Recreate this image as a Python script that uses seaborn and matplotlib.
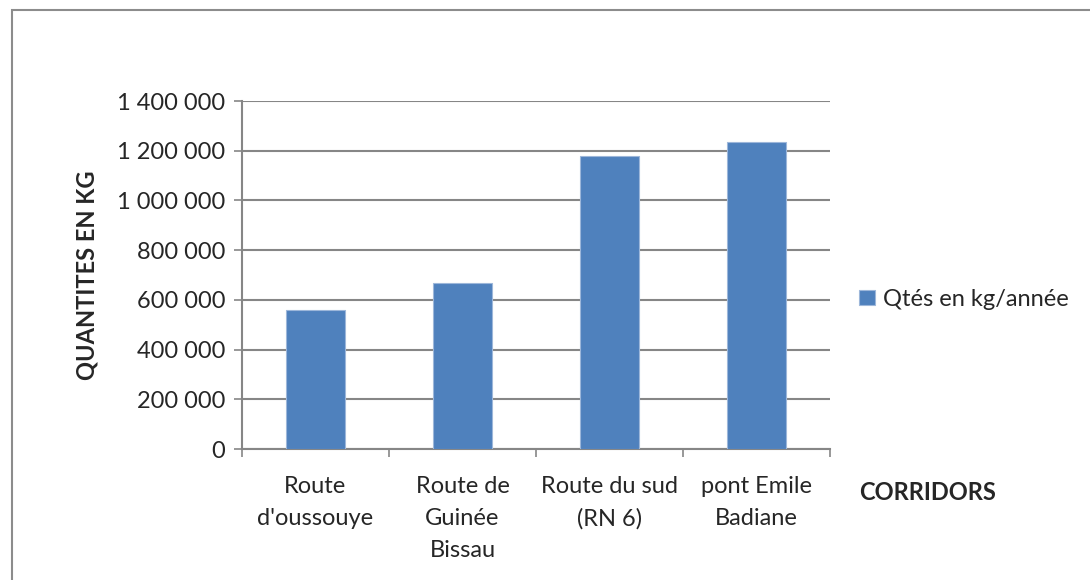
import matplotlib
matplotlib.use("Agg")
import matplotlib.pyplot as plt
import seaborn as sns
import pandas as pd
from matplotlib.patches import Rectangle
from matplotlib.ticker import FuncFormatter, FixedLocator

# data
corridors = ["Route\nd'oussouye", "Route de\nGuinée\nBissau", "Route du sud\n(RN 6)", "pont Emile\nBadiane"]
quantites = [560000, 668000, 1177000, 1236000]
series_name = "Qtés en kg/année"
y_ticks = [0, 200000, 400000, 600000, 800000, 1000000, 1200000, 1400000]

df = pd.DataFrame({"Corridor": corridors, "Quantite": quantites, "Serie": series_name})

sns.set_style("white")
plt.rcParams['font.family'] = ['Lato', 'DejaVu Sans']
fs = 17

fig = plt.figure(figsize=(10.9, 5.8), dpi=100)
ax = fig.add_axes([242 / 1090, 1 - 449 / 580, (830 - 242) / 1090, (449 - 101) / 580])

sns.barplot(data=df, x="Corridor", y="Quantite", hue="Serie", palette=["#4F81BD"],
            saturation=1, width=0.4, ax=ax, edgecolor="#9DB7DA", linewidth=0.8, zorder=3)

grid_col = "#868686"
ax.set_ylim(0, 1400000)
ax.set_xlim(-0.5, 3.5)
ax.yaxis.set_major_locator(FixedLocator(y_ticks))
ax.yaxis.set_major_formatter(FuncFormatter(lambda v, p: f"{int(v):,}".replace(",", " ")))
ax.grid(axis="y", color=grid_col, linewidth=1.5, zorder=0)
ax.set_axisbelow(True)

for side in ["top", "right"]:
    ax.spines[side].set_visible(False)
ax.spines["left"].set_color(grid_col)
ax.spines["left"].set_linewidth(1.5)
ax.spines["bottom"].set_color(grid_col)
ax.spines["bottom"].set_linewidth(1.5)

ax.tick_params(axis="y", left=True, length=6, color=grid_col, width=1.2, labelsize=fs, pad=6)
ax.set_xticks(range(len(corridors)))
ax.set_xticklabels(corridors, fontsize=fs, linespacing=1.65)
ax.tick_params(axis="x", bottom=False, pad=16)
ax.set_xticks([-0.5, 0.5, 1.5, 2.5, 3.5], minor=True)
ax.tick_params(axis="x", which="minor", bottom=True, length=6, color=grid_col, width=1.2)

ax.set_xlabel("")
ax.set_ylabel("QUANTITES EN KG", fontsize=fs, fontweight="bold")
ax.yaxis.set_label_coords(-143 / 588, 0.5)

ax.legend(loc="center left", bbox_to_anchor=(1.03, 0.43), frameon=False, fontsize=fs,
          handlelength=0.65, handleheight=0.65, handletextpad=0.35, borderpad=0)

fig.text(928 / 1090, 1 - 492 / 580, "CORRIDORS", fontsize=fs, fontweight="bold",
         ha="center", va="center")

fig.patches.append(Rectangle((12 / 1090, -0.1), 1.0, 1.1 - 10 / 580, transform=fig.transFigure,
                             fill=False, edgecolor="#8C8C8C", linewidth=1.5))

fig.savefig("out.png", dpi=100)
